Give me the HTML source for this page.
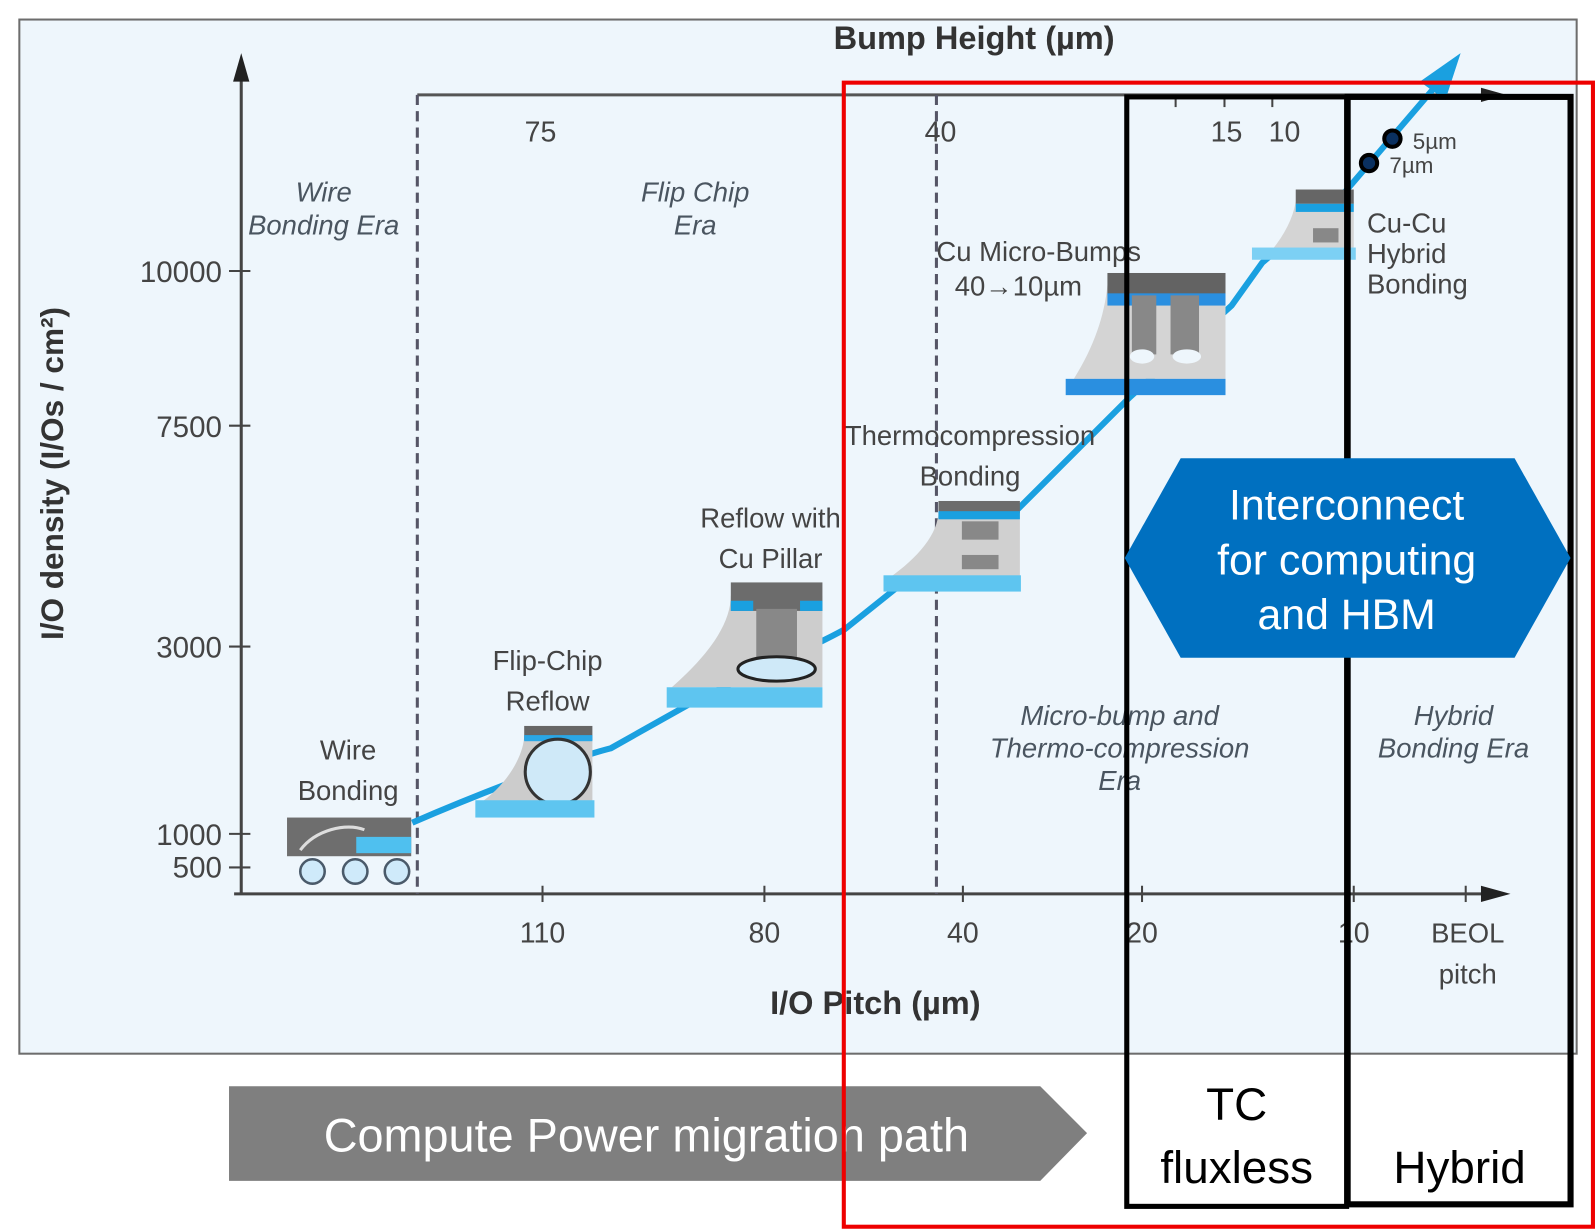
<!DOCTYPE html>
<html><head><meta charset="utf-8"><style>
html,body{margin:0;padding:0;background:#fff;}
svg{display:block;}
text{font-family:"Liberation Sans",sans-serif;}
</style></head><body>
<svg width="1596" height="1231" viewBox="0 0 1568 1209" xmlns="http://www.w3.org/2000/svg">
<rect x="0" y="0" width="1568" height="1209" fill="#fff"/>
<rect x="19" y="19" width="1530" height="1016" fill="#eef6fc" stroke="#6d6d6d" stroke-width="2"/>
<!-- axes -->
<line x1="237" y1="878" x2="237" y2="70" stroke="#444" stroke-width="3"/>
<path d="M229,80 L237,52 L245,80 z" fill="#222"/>
<line x1="230" y1="878" x2="1460" y2="878" stroke="#444" stroke-width="3"/>
<path d="M1455,870 L1484,878 L1455,886 z" fill="#222"/>
<line x1="410" y1="93" x2="1460" y2="93" stroke="#555" stroke-width="3"/>
<path d="M1455,86 L1480,93 L1455,100 z" fill="#222"/>
<g stroke="#444" stroke-width="2">
<line x1="225" y1="266" x2="246" y2="266"/><line x1="225" y1="418" x2="246" y2="418"/>
<line x1="225" y1="635" x2="246" y2="635"/><line x1="225" y1="819" x2="246" y2="819"/>
<line x1="225" y1="852" x2="246" y2="852"/>
<line x1="533" y1="870" x2="533" y2="886"/><line x1="751" y1="870" x2="751" y2="886"/>
<line x1="946" y1="870" x2="946" y2="886"/><line x1="1122" y1="870" x2="1122" y2="886"/>
<line x1="1330" y1="870" x2="1330" y2="886"/><line x1="1440" y1="870" x2="1440" y2="886"/>
<line x1="1155" y1="93" x2="1155" y2="105"/><line x1="1203" y1="93" x2="1203" y2="105"/><line x1="1250" y1="93" x2="1250" y2="105"/>
</g>
<g stroke="#556" stroke-width="3" stroke-dasharray="10,6">
<line x1="410" y1="93" x2="410" y2="878"/><line x1="920" y1="93" x2="920" y2="878"/>
</g>
<g fill="#444" font-size="29" text-anchor="end">
<text x="218" y="277">10000</text><text x="218" y="429">7500</text><text x="218" y="646">3000</text>
<text x="218" y="830">1000</text><text x="218" y="862">500</text>
</g>
<g fill="#444" font-size="28" text-anchor="middle">
<text x="533" y="926">110</text><text x="751" y="926">80</text><text x="946" y="926">40</text>
<text x="1122" y="926">20</text><text x="1330" y="926">10</text>
<text x="1442" y="926" font-size="27">BEOL</text><text x="1442" y="966" font-size="27">pitch</text>
<text x="531" y="139">75</text><text x="924" y="139">40</text><text x="1205" y="139">15</text><text x="1262" y="139">10</text>
</g>
<text x="957" y="48" font-size="32" font-weight="bold" fill="#333" text-anchor="middle">Bump Height (µm)</text>
<text x="860" y="996" font-size="32" font-weight="bold" fill="#333" text-anchor="middle">I/O Pitch (µm)</text>
<text transform="translate(62,465) rotate(-90)" font-size="31" font-weight="bold" fill="#333" text-anchor="middle">I/O density (I/Os / cm²)</text>
<g fill="#4a5560" font-size="27" font-style="italic" text-anchor="middle">
<text x="318" y="198">Wire</text><text x="318" y="230">Bonding Era</text>
<text x="683" y="198">Flip Chip</text><text x="683" y="230">Era</text>
<text x="1100" y="712">Micro-bump and</text><text x="1100" y="744">Thermo-compression</text><text x="1100" y="776">Era</text>
<text x="1428" y="712">Hybrid</text><text x="1428" y="744">Bonding Era</text>
</g>
<!-- trend line -->
<path d="M405,808 C470,780 560,745 600,735 L680,690 C740,660 790,640 830,618 L880,578 L1000,500 L1110,390 L1210,300 L1240,258 L1320,190 L1410,85" fill="none" stroke="#1aa0e0" stroke-width="6"/>
<path d="M1395,80 L1435,52 L1420,98 z" fill="#1aa0e0"/>
<!-- wire bonding -->
<rect x="282" y="803" width="122" height="38" fill="#6e6e6e"/>
<rect x="350" y="822" width="54" height="16" fill="#4fc0ef"/>
<path d="M295,835 C310,815 340,808 358,815" stroke="#ddd" stroke-width="3" fill="none"/>
<g fill="#cfeafa" stroke="#4a5a6a" stroke-width="2.5"><circle cx="307" cy="856" r="12"/><circle cx="349" cy="856" r="12"/><circle cx="390" cy="856" r="12"/></g>
<!-- flip chip reflow -->
<path d="M515,722 L582,722 L582,790 L470,790 C500,770 515,740 515,722z" fill="#cccccc"/>
<rect x="515" y="713" width="67" height="14" fill="#666"/>
<rect x="515" y="722" width="67" height="6" fill="#2aa7e6"/>
<circle cx="548" cy="758" r="32" fill="#cfe9f8" stroke="#333" stroke-width="3"/>
<rect x="467" y="786" width="117" height="17" fill="#5ec5f0"/>
<!-- reflow cu pillar -->
<path d="M718,585 L808,585 L808,675 L660,675 C700,640 718,610 718,585z" fill="#cdcdcd"/>
<rect x="718" y="572" width="90" height="28" fill="#6c6c6c"/>
<rect x="718" y="590" width="22" height="10" fill="#1aa0e0"/><rect x="786" y="590" width="22" height="10" fill="#1aa0e0"/>
<rect x="743" y="598" width="40" height="50" fill="#888"/>
<ellipse cx="763" cy="657" rx="38" ry="12" fill="#cfe9f8" stroke="#222" stroke-width="3"/>
<rect x="655" y="675" width="153" height="20" fill="#5ec5f0"/>
<!-- thermocompression -->
<path d="M922,502 L1002,502 L1002,570 L870,570 C900,550 922,525 922,502z" fill="#d0d0d0"/>
<rect x="922" y="492" width="80" height="12" fill="#6c6c6c"/>
<rect x="922" y="502" width="80" height="8" fill="#1aa0e0"/>
<rect x="945" y="512" width="36" height="18" fill="#888"/><rect x="945" y="545" width="36" height="14" fill="#888"/>
<rect x="868" y="565" width="135" height="16" fill="#5ec5f0"/>
<!-- micro bumps -->
<path d="M1088,280 L1204,280 L1204,372 L1055,372 C1075,340 1085,310 1088,280z" fill="#d4d4d4"/>
<rect x="1088" y="268" width="116" height="22" fill="#636363"/>
<rect x="1088" y="288" width="116" height="12" fill="#2a8fe0"/>
<rect x="1112" y="290" width="24" height="58" fill="#888"/><rect x="1150" y="290" width="28" height="58" fill="#888"/>
<ellipse cx="1122" cy="350" rx="12" ry="7" fill="#eef6fc"/><ellipse cx="1166" cy="350" rx="14" ry="7" fill="#eef6fc"/>
<rect x="1047" y="372" width="157" height="16" fill="#2a8fe0"/>
<!-- hybrid -->
<path d="M1273,198 L1330,198 L1330,245 L1250,245 C1262,230 1270,215 1273,198z" fill="#d4d4d4"/>
<rect x="1273" y="186" width="57" height="14" fill="#666"/>
<rect x="1273" y="200" width="57" height="8" fill="#1aa0e0"/>
<rect x="1290" y="224" width="25" height="14" fill="#888"/>
<rect x="1230" y="243" width="102" height="12" fill="#7cd0f4"/>
<circle cx="1345" cy="160" r="8" fill="#0a3060" stroke="#000" stroke-width="4"/>
<circle cx="1368" cy="136" r="8" fill="#0a3060" stroke="#000" stroke-width="4"/>
<g fill="#444" font-size="27">
<text x="1388" y="146" font-size="22">5µm</text><text x="1365" y="170" font-size="22">7µm</text>
<text x="1343" y="228">Cu-Cu</text><text x="1343" y="258">Hybrid</text><text x="1343" y="288">Bonding</text>
<text x="920" y="256">Cu Micro-Bumps</text><text x="938" y="290">40→10µm</text>
<text x="953" y="437" text-anchor="middle">Thermocompression</text><text x="953" y="477" text-anchor="middle">Bonding</text>
<text x="757" y="518" text-anchor="middle">Reflow with</text><text x="757" y="558" text-anchor="middle">Cu Pillar</text>
<text x="538" y="658" text-anchor="middle">Flip-Chip</text><text x="538" y="698" text-anchor="middle">Reflow</text>
<text x="342" y="746" text-anchor="middle">Wire</text><text x="342" y="786" text-anchor="middle">Bonding</text>
</g>
<!-- gray arrow -->
<polygon points="225,1067 1022,1067 1068,1113 1022,1160 225,1160" fill="#7f7f7f"/>
<text x="635" y="1131" font-size="46" fill="#fff" text-anchor="middle">Compute Power migration path</text>
<!-- boxes -->
<rect x="1107" y="95" width="216" height="1090" fill="none" stroke="#000" stroke-width="5"/>
<rect x="1324" y="95" width="219" height="1088" fill="none" stroke="#000" stroke-width="6"/>
<g fill="#000" font-size="45" text-anchor="middle">
<text x="1215" y="1100">TC</text><text x="1215" y="1162">fluxless</text><text x="1434" y="1162">Hybrid</text>
</g>
<!-- hexagon on top -->
<polygon points="1105,548 1160,450 1488,450 1543,548 1488,646 1160,646" fill="#0070c0"/>
<g fill="#fff" font-size="42" text-anchor="middle">
<text x="1323" y="510">Interconnect</text><text x="1323" y="564">for computing</text><text x="1323" y="618">and HBM</text>
</g>
<rect x="829" y="81" width="736" height="1124" fill="none" stroke="#ee0000" stroke-width="4"/>
</svg>
</body></html>
